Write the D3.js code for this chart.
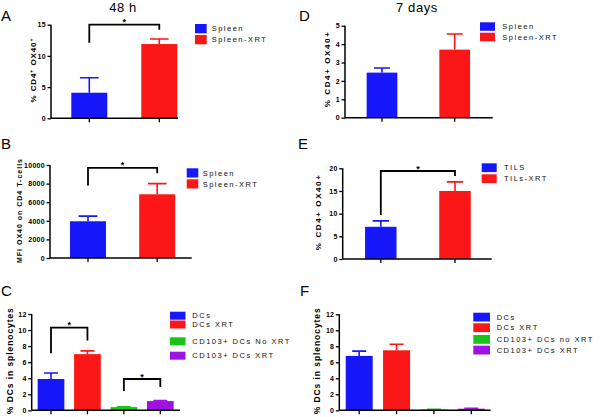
<!DOCTYPE html>
<html lang="en">
<head>
<meta charset="utf-8">
<title>OX40 panels</title>
<script src="https://cdn.jsdelivr.net/npm/d3@7"></script>
<style>
  body { margin: 0; background: #fff; }
  svg { display: block; font-family: "Liberation Sans", Arial, sans-serif; }
</style>
</head>
<body>
<div id="chart"></div>
<script>
// ---- data ----
const aGroups = ["Spleen", "Spleen-XRT"];
const aMeans = [4.1, 11.9];
const aErr = [2.4, 0.8];
const aTicks = [0, 5, 10, 15];

const bGroups = ["Spleen", "Spleen-XRT"];
const bMeans = [3950, 6850];
const bErr = [550, 1150];
const bTicks = [0, 2000, 4000, 6000, 8000, 10000];

const cGroups = ["DCs", "DCs XRT", "CD103+ DCs No XRT", "CD103+ DCs XRT"];
const cMeans = [3.9, 7.0, 0.4, 1.15];
const cErr = [0.75, 0.4, 0.05, 0.05];
const cTicks = [0, 2, 4, 6, 8, 10, 12];

const dGroups = ["Spleen", "Spleen-XRT"];
const dMeans = [2.45, 3.7];
const dErr = [0.25, 0.85];
const dTicks = [0, 1, 2, 3, 4, 5];

const eGroups = ["TILS", "TILs-XRT"];
const eMeans = [7.1, 15.0];
const eErr = [1.3, 2.0];
const eTicks = [0, 5, 10, 15, 20];

const fGroups = ["DCs", "DCs XRT", "CD103+ DCs no XRT", "CD103+ DCs XRT"];
const fMeans = [6.8, 7.5, 0.1, 0.2];
const fErr = [0.6, 0.75, 0.03, 0.05];
const fTicks = [0, 2, 4, 6, 8, 10, 12];

// significance brackets: [from, to, top, left leg end, right leg end] in data units
const aSig = [[0, 1, 15, 12.1, 14.2]];
const bSig = [[0, 1, 9700, 7800, 9100]];
const cSig = [[0, 1, 10.3, 7.1, 8.7], [2, 3, 3.9, 2.4, 2.9]];
const eSig = [[0, 1, 19.4, 9.7, 18.3]];

const colors = ["#1717fb", "#fb1717", "#18c418", "#9d14e2"];

const svg = d3.select("#chart").append("svg").attr("width", 600).attr("height", 417);

function panel(o) {
  const g = svg.append("g");
  const n = o.groups.length;
  const step = (o.c1 - o.c0) / (n - 1);
  const p = 1 - o.barW / step;
  const x = d3.scaleBand()
    .domain(o.groups)
    .range([o.c0 - step / 2, o.c1 + step / 2])
    .paddingInner(p)
    .paddingOuter(p / 2);
  const y = d3.scaleLinear().domain([0, o.max]).range([o.y0, o.yTop]);

  // bars
  g.selectAll("rect.bar").data(o.groups).enter().append("rect")
    .attr("x", d => x(d))
    .attr("width", x.bandwidth())
    .attr("y", (d, i) => y(o.means[i]))
    .attr("height", (d, i) => o.y0 - y(o.means[i]))
    .attr("fill", (d, i) => colors[i]);

  // error bars (upper only)
  o.groups.forEach((d, i) => {
    const cx = x(d) + x.bandwidth() / 2, cw = x.bandwidth() * 0.26;
    const top = y(o.means[i] + o.err[i]);
    g.append("path")
      .attr("d", `M${cx},${y(o.means[i])}V${top}M${cx - cw},${top}H${cx + cw}`)
      .attr("stroke", colors[i]).attr("stroke-width", 1.6).attr("fill", "none");
  });

  // y axis
  const ya = g.append("g").attr("transform", `translate(${o.axX},0)`)
    .call(d3.axisLeft(y).tickValues(o.ticks).tickFormat(d3.format("d")).tickSize(3.5).tickPadding(1.5));
  ya.select(".domain").attr("d", `M0,${o.yTop}V${o.y0}`).attr("stroke-width", 1.5);
  ya.selectAll(".tick line").attr("stroke-width", 1.3);
  ya.selectAll("text").attr("font-size", 7).attr("font-weight", "bold")
    .attr("font-family", "Liberation Sans, Arial, sans-serif").attr("letter-spacing", 0.3);

  // x axis
  const xa = g.append("g").attr("transform", `translate(0,${o.y0})`)
    .call(d3.axisBottom(x).tickSize(4).tickFormat(""));
  xa.select(".domain").attr("d", `M${o.axX},0H${o.axEnd}`).attr("stroke-width", 1.5);
  xa.selectAll(".tick line").attr("stroke-width", 1.3);

  // y title
  const yt = g.append("text")
    .attr("transform", `translate(${o.titleX},${(o.yTop + o.y0) / 2 + (o.titleShift || 0)}) rotate(-90)`)
    .attr("text-anchor", "middle")
    .attr("font-size", o.titleSize).attr("font-weight", "bold")
    .attr("textLength", o.titleLen).attr("lengthAdjust", "spacing");
  o.title.forEach(t => {
    const s = yt.append("tspan").text(t[0]);
    if (t[1]) s.attr("baseline-shift", "super").attr("font-size", o.titleSize * 0.65);
  });

  // brackets
  (o.sig || []).forEach(s => {
    const xl = x(o.groups[s[0]]) + x.bandwidth() / 2;
    const xr = x(o.groups[s[1]]) + x.bandwidth() / 2;
    g.append("path")
      .attr("d", `M${xl},${y(s[3])}V${y(s[2])}H${xr}V${y(s[4])}`)
      .attr("stroke", "#000").attr("stroke-width", 1.8).attr("fill", "none");
    g.append("text").attr("x", (xl + xr) / 2).attr("y", y(s[2]) + 0.5)
      .attr("text-anchor", "middle").attr("font-size", 9).attr("font-weight", "bold").text("*");
  });

  // legend
  o.groups.forEach((d, i) => {
    g.append("rect").attr("x", o.lx).attr("y", o.ly[i])
      .attr("width", o.lw).attr("height", o.lh).attr("fill", colors[i]);
    g.append("text").attr("x", o.tx).attr("y", o.ly[i] + o.lh / 2)
      .attr("dy", "0.36em").attr("font-size", 7.5).attr("letter-spacing", 1.5)
      .attr("fill", "#111").text(d);
  });

  // panel letter
  g.append("text").attr("x", o.px).attr("y", o.py)
    .attr("font-size", 15).text(o.letter);
}

panel({ letter: "A", px: 1, py: 20.7, groups: aGroups, means: aMeans, err: aErr, ticks: aTicks, max: 15,
  axX: 51, axEnd: 178, yTop: 24.7, y0: 118.3, c0: 89.3, c1: 159.3, barW: 36,
  title: [["% CD4"], ["+", 1], [" OX40"], ["+", 1]], titleX: 36, titleSize: 8, titleLen: 64, titleShift: -1,
  sig: aSig, lx: 195, ly: [24, 35], lw: 11.7, lh: 9.3, tx: 211.7 });

panel({ letter: "B", px: 1, py: 148.5, groups: bGroups, means: bMeans, err: bErr, ticks: bTicks, max: 10000,
  axX: 50, axEnd: 191.7, yTop: 165, y0: 258, c0: 88, c1: 157.2, barW: 36,
  title: [["MFI OX40 on CD4 T-cells"]], titleX: 21.5, titleSize: 7, titleLen: 104, titleShift: -0.5,
  sig: bSig, lx: 186.7, ly: [168.3, 179.3], lw: 11.6, lh: 9.2, tx: 202.7 });

panel({ letter: "C", px: 1, py: 295.7, groups: cGroups, means: cMeans, err: cErr, ticks: cTicks, max: 12,
  axX: 31.7, axEnd: 180, yTop: 314, y0: 410.3, c0: 51, c1: 160.3, barW: 26.7,
  title: [["% DCs in splenocytes"]], titleX: 12.7, titleSize: 8.5, titleLen: 106, titleShift: -1,
  sig: cSig, lx: 170, ly: [311.7, 320.5, 337.3, 351.7], lw: 15.5, lh: 8, tx: 192.3 });

panel({ letter: "D", px: 299, py: 20.7, groups: dGroups, means: dMeans, err: dErr, ticks: dTicks, max: 5,
  axX: 345, axEnd: 492.7, yTop: 25.7, y0: 117.7, c0: 382, c1: 454.7, barW: 30.7,
  title: [["% CD4+ OX40+"]], titleX: 329.5, titleSize: 8, titleLen: 75, titleShift: -2,
  lx: 480, ly: [22.3, 32.7], lw: 15, lh: 8.5, tx: 502.3 });

panel({ letter: "E", px: 298, py: 148.5, groups: eGroups, means: eMeans, err: eErr, ticks: eTicks, max: 20,
  axX: 342.7, axEnd: 491.7, yTop: 168.3, y0: 259, c0: 380.8, c1: 455, barW: 31.5,
  title: [["% CD4+ OX40+"]], titleX: 320.7, titleSize: 8, titleLen: 75, titleShift: -1,
  sig: eSig, lx: 481.7, ly: [163.3, 174.3], lw: 15, lh: 8.8, tx: 504 });

panel({ letter: "F", px: 300, py: 295.7, groups: fGroups, means: fMeans, err: fErr, ticks: fTicks, max: 12,
  axX: 339.3, axEnd: 490.7, yTop: 314.3, y0: 410.3, c0: 359.2, c1: 471.3, barW: 27,
  title: [["% DCs in splenocytes"]], titleX: 319.5, titleSize: 8.5, titleLen: 106, titleShift: -1,
  lx: 473.3, ly: [312.7, 323.3, 335, 345.7], lw: 16.7, lh: 8.8, tx: 496.7 });

// time-point headers
svg.append("text").attr("x", 123).attr("y", 11.5).attr("text-anchor", "middle")
  .attr("font-size", 13).attr("letter-spacing", 0.6).text("48 h");
svg.append("text").attr("x", 417).attr("y", 11.5).attr("text-anchor", "middle")
  .attr("font-size", 13).attr("letter-spacing", 0.6).text("7 days");
</script>
</body>
</html>
